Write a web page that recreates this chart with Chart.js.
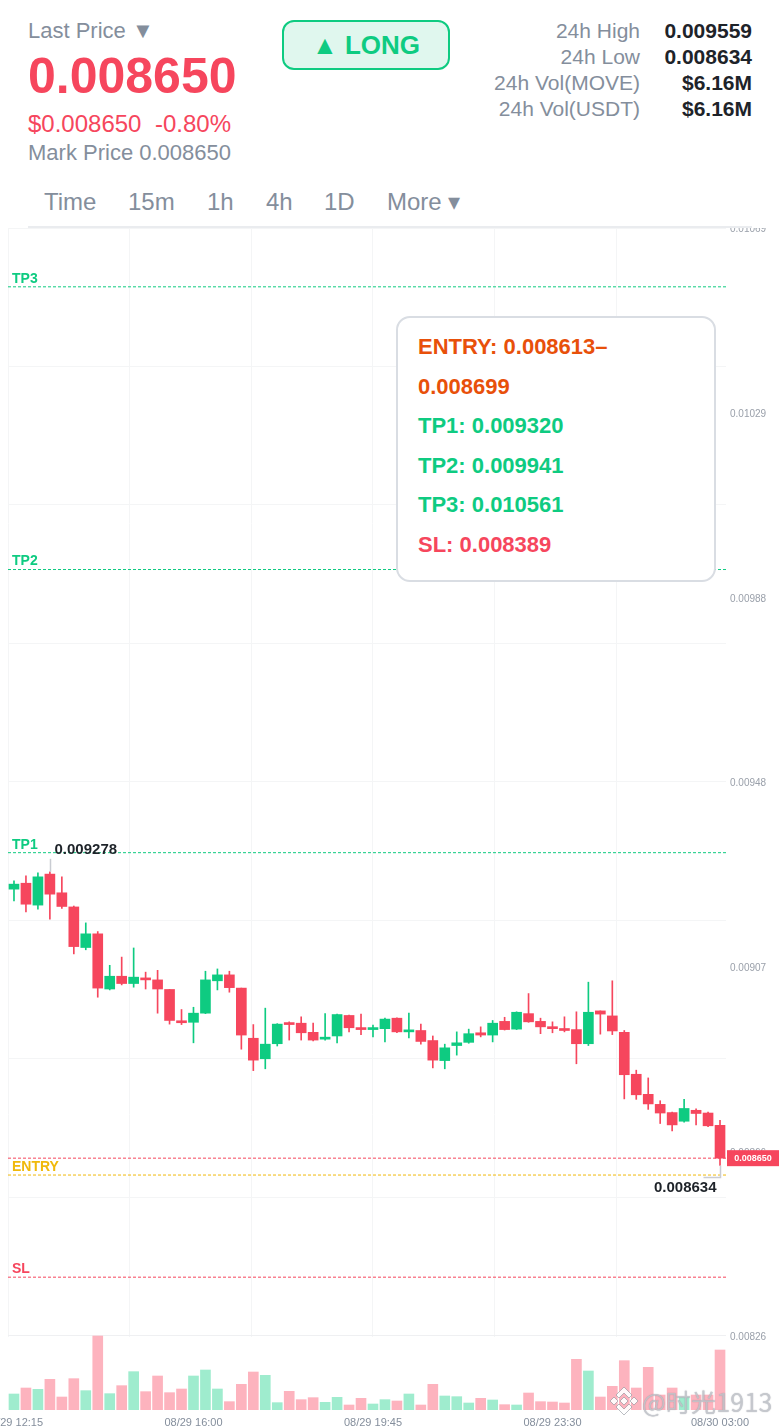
<!DOCTYPE html>
<html>
<head>
<meta charset="utf-8">
<script src="https://cdn.jsdelivr.net/npm/chart.js@4/dist/chart.umd.min.js"></script>
<style>
html,body{margin:0;padding:0;background:#fff;width:780px;height:1428px;overflow:hidden;font-family:"Liberation Sans",Arial,sans-serif;}
.a{position:absolute;white-space:nowrap;line-height:1;}
.gray{color:#848e9c;}
.red{color:#f6465d;}
.dark{color:#1e2329;}
#chartWrap{position:absolute;left:0;top:228px;width:780px;height:1200px;}
.rowL{position:absolute;right:140px;font-size:21px;line-height:26px;color:#848e9c;white-space:nowrap;}
.rowV{position:absolute;right:28px;font-size:21px;line-height:26px;font-weight:700;color:#1e2329;white-space:nowrap;}
.tab{position:absolute;top:190px;font-size:24px;line-height:24px;color:#848e9c;white-space:nowrap;}
#long{position:absolute;left:282px;top:20px;width:164px;height:46px;border:2px solid #0ecb81;border-radius:12px;background:#e0f7ee;color:#0ecb81;font-weight:700;font-size:26px;line-height:47px;text-align:center;}
#card{position:absolute;left:396px;top:316px;width:316px;height:253px;padding-top:9px;border:2px solid #d9dde3;border-radius:14px;background:#fff;font-size:22px;font-weight:700;line-height:39.6px;}
#card div{padding-left:20px;white-space:nowrap;}
#wm{position:absolute;left:642px;top:1386px;font-family:"Noto Sans CJK SC","Liberation Sans",sans-serif;font-size:25px;line-height:30px;color:rgba(205,208,214,.75);text-shadow:0 0 1px rgba(90,95,105,.55);white-space:nowrap;letter-spacing:.2px;}
#logo{position:absolute;left:610px;top:1386px;}
</style>
</head>
<body>
<div class="a gray" style="left:28px;top:20px;font-size:22px;">Last Price ▼</div>
<div class="a red" style="left:28px;top:51px;font-size:50px;font-weight:700;">0.008650</div>
<div class="a red" style="left:28px;top:112px;font-size:24px;">$0.008650</div>
<div class="a red" style="left:155px;top:112px;font-size:24px;">-0.80%</div>
<div class="a gray" style="left:28px;top:142px;font-size:22px;">Mark Price 0.008650</div>
<div id="long">▲ LONG</div>
<div class="rowL" style="top:18px;">24h High</div><div class="rowV" style="top:18px;">0.009559</div>
<div class="rowL" style="top:44px;">24h Low</div><div class="rowV" style="top:44px;">0.008634</div>
<div class="rowL" style="top:70px;">24h Vol(MOVE)</div><div class="rowV" style="top:70px;">$6.16M</div>
<div class="rowL" style="top:96px;">24h Vol(USDT)</div><div class="rowV" style="top:96px;">$6.16M</div>
<div class="tab" style="left:44px;">Time</div>
<div class="tab" style="left:128px;">15m</div>
<div class="tab" style="left:207px;">1h</div>
<div class="tab" style="left:266px;">4h</div>
<div class="tab" style="left:324px;">1D</div>
<div class="tab" style="left:387px;">More ▾</div>
<div style="position:absolute;left:28px;top:226px;width:724px;height:2px;background:#eaecef;"></div>
<div id="chartWrap"><canvas id="c" width="780" height="1200" style="display:block;width:780px;height:1200px;"></canvas></div>
<div id="card">
<div style="color:#e8500a;">ENTRY: 0.008613–</div>
<div style="color:#e8500a;">0.008699</div>
<div style="color:#0ecb81;">TP1: 0.009320</div>
<div style="color:#0ecb81;">TP2: 0.009941</div>
<div style="color:#0ecb81;">TP3: 0.010561</div>
<div style="color:#f6465d;">SL: 0.008389</div>
</div>
<svg id="logo" width="28" height="30" viewBox="0 0 28 30"><g fill="rgba(255,255,255,.9)" stroke="rgba(120,125,135,.5)" stroke-width="1"><path d="M14 1l8 8-3 3-5-5-5 5-3-3z"/><path d="M4 11l4 4-4 4-4-4z"/><path d="M24 11l4 4-4 4-4-4z"/><path d="M14 11l4 4-4 4-4-4z"/><path d="M14 29l-8-8 3-3 5 5 5-5 3 3z"/></g></svg>
<div id="wm">@时光1913</div>
<script>
const categories = ["08/29 12:15","08/29 12:30","08/29 12:45","08/29 13:00","08/29 13:15","08/29 13:30","08/29 13:45","08/29 14:00","08/29 14:15","08/29 14:30","08/29 14:45","08/29 15:00","08/29 15:15","08/29 15:30","08/29 15:45","08/29 16:00","08/29 16:15","08/29 16:30","08/29 16:45","08/29 17:00","08/29 17:15","08/29 17:30","08/29 17:45","08/29 18:00","08/29 18:15","08/29 18:30","08/29 18:45","08/29 19:00","08/29 19:15","08/29 19:30","08/29 19:45","08/29 20:00","08/29 20:15","08/29 20:30","08/29 20:45","08/29 21:00","08/29 21:15","08/29 21:30","08/29 21:45","08/29 22:00","08/29 22:15","08/29 22:30","08/29 22:45","08/29 23:00","08/29 23:15","08/29 23:30","08/29 23:45","08/30 00:00","08/30 00:15","08/30 00:30","08/30 00:45","08/30 01:00","08/30 01:15","08/30 01:30","08/30 01:45","08/30 02:00","08/30 02:15","08/30 02:30","08/30 02:45","08/30 03:00"];
const opens  = [0.009240,0.009253,0.009205,0.009273,0.009232,0.009201,0.009112,0.009142,0.009021,0.009049,0.009033,0.009045,0.009041,0.009020,0.008951,0.008948,0.008968,0.009039,0.009052,0.009023,0.008913,0.008868,0.008901,0.008945,0.008946,0.008926,0.008911,0.008918,0.008963,0.008935,0.008932,0.008934,0.008957,0.008927,0.008930,0.008908,0.008864,0.008897,0.008904,0.008925,0.008920,0.008950,0.008933,0.008967,0.008950,0.008938,0.008932,0.008932,0.008901,0.008973,0.008962,0.008926,0.008834,0.008790,0.008768,0.008750,0.008731,0.008755,0.008749,0.008722];
const highs  = [0.009258,0.009269,0.009276,0.009278,0.009267,0.009203,0.009166,0.009147,0.009073,0.009091,0.009111,0.009058,0.009062,0.009020,0.008976,0.008981,0.009060,0.009065,0.009060,0.009023,0.008943,0.008979,0.008945,0.008949,0.008960,0.008946,0.008967,0.008966,0.008964,0.008966,0.008942,0.008957,0.008958,0.008968,0.008944,0.008918,0.008900,0.008927,0.008933,0.008938,0.008952,0.008959,0.008971,0.009011,0.008957,0.008949,0.008960,0.008971,0.009036,0.008973,0.009039,0.008930,0.008843,0.008826,0.008776,0.008751,0.008779,0.008758,0.008751,0.008733];
const lows   = [0.009214,0.009190,0.009196,0.009174,0.009198,0.009098,0.009107,0.009003,0.009019,0.009030,0.009025,0.009021,0.008968,0.008944,0.008943,0.008903,0.008967,0.009019,0.009014,0.008889,0.008842,0.008846,0.008896,0.008909,0.008909,0.008907,0.008909,0.008903,0.008927,0.008921,0.008916,0.008905,0.008925,0.008914,0.008900,0.008848,0.008846,0.008876,0.008902,0.008916,0.008905,0.008931,0.008932,0.008948,0.008923,0.008925,0.008927,0.008857,0.008897,0.008922,0.008921,0.008780,0.008779,0.008757,0.008726,0.008710,0.008729,0.008723,0.008719,0.008634];
const closes = [0.009251,0.009207,0.009267,0.009229,0.009202,0.009114,0.009142,0.009023,0.009049,0.009033,0.009047,0.009041,0.009021,0.008952,0.008947,0.008968,0.009041,0.009052,0.009024,0.008920,0.008865,0.008900,0.008944,0.008943,0.008925,0.008909,0.008914,0.008965,0.008936,0.008932,0.008935,0.008955,0.008927,0.008929,0.008906,0.008865,0.008892,0.008903,0.008923,0.008920,0.008946,0.008932,0.008970,0.008949,0.008938,0.008934,0.008930,0.008901,0.008970,0.008966,0.008929,0.008833,0.008789,0.008769,0.008749,0.008723,0.008759,0.008748,0.008721,0.008650];
const volumes = [48,66,62,92,39,94,58,222,49,73,115,55,102,52,63,102,120,63,25,77,114,104,22,56,31,37,23,38,15,35,18,31,27,48,15,77,42,40,21,35,30,16,15,51,25,24,21,152,117,39,71,148,66,128,45,66,38,45,45,180];
const xLabelIndexes = [0,15,30,45,59];
const priceTickValues = [0.00826,0.008665,0.00907,0.009475,0.00988,0.010285,0.01069];
const priceTickLabels = ["0.00826","0.00866","0.00907","0.00948","0.00988","0.01029","0.01069"];
const priceGridValues = [0.00826,0.00856375,0.0088675,0.00917125,0.009475,0.00977875,0.0100825,0.01038625,0.01069];
const timeGridValues = [-0.5,9.66,19.83,30,40.17,50.33];
const levelNames  = ["TP3","TP2","TP1","ENTRY","SL"];
const levelValues = [0.010561,0.009941,0.009320,0.008613,0.008389];
const levelColors = ["#0ecb81","#0ecb81","#0ecb81","#f0b90b","#f6465d"];
const lastPrice = 0.008650;
const highMark = {index:3,value:0.009278,text:"0.009278"};
const lowMark  = {index:59,value:0.008634,text:"0.008634"};
const priceMin = 0.0080977, priceMax = 0.01069, volMax = 3546;

const GREEN="#0ecb81", RED="#f6465d";
const up = closes.map((c,i)=>c>=opens[i]);
const candleColors = up.map(u=>u?GREEN:RED);
const volColors = up.map(u=>u?"#9fecce":"#fdb3be");

const xIdx = {min:-0.5,max:59.5};
function hLine(v,color){return {type:'line',xAxisID:'xg',yAxisID:'y',data:[{x:xIdx.min,y:v},{x:xIdx.max,y:v}],borderColor:color,borderWidth:1,borderDash:[3,2],pointRadius:0,fill:false,order:0};}
function noPad(s){s.paddingLeft=s.paddingRight=s.paddingTop=s.paddingBottom=0;}

const overlay = {
  id:'overlay',
  beforeDatasetsDraw(chart){
    const {ctx,chartArea:a,scales:{y}}=chart;
    const p=y.getPixelForValue(0.00826);
    ctx.save();ctx.fillStyle='#fff';ctx.fillRect(a.left-1,p+1,a.right-a.left+1,a.bottom-p-1);ctx.restore();
  },
  afterDatasetsDraw(chart){
    const {ctx,chartArea:a,scales:{x,y}}=chart;
    ctx.save();
    ctx.textBaseline='middle';
    levelNames.forEach((n,i)=>{
      ctx.font='bold 14px "Liberation Sans"';ctx.fillStyle=levelColors[i];ctx.textAlign='left';
      ctx.fillText(n,12,y.getPixelForValue(levelValues[i])-8);
    });
    ctx.strokeStyle='#c9ccd2';ctx.lineWidth=1.5;
    const hx=Math.round(x.getPixelForValue(highMark.index))+.5,hy=y.getPixelForValue(highMark.value);
    ctx.beginPath();ctx.moveTo(hx,hy);ctx.lineTo(hx,hy-13);ctx.stroke();
    const lx=Math.round(x.getPixelForValue(lowMark.index))+.5,ly=y.getPixelForValue(lowMark.value);
    ctx.beginPath();ctx.moveTo(lx,ly);ctx.lineTo(lx,ly+12);ctx.lineTo(lx-17,ly+12);ctx.stroke();
    ctx.font='bold 15px "Liberation Sans"';ctx.fillStyle='#1e2329';
    ctx.textAlign='left';ctx.fillText(highMark.text,hx+4,hy-22);
    ctx.textAlign='right';ctx.fillText(lowMark.text,lx-4,ly+22);
    const ty=y.getPixelForValue(lastPrice);
    ctx.fillStyle=RED;ctx.fillRect(727,ty-8,52,16);
    ctx.fillStyle='#fff';ctx.font='bold 9px "Liberation Sans"';ctx.textAlign='center';
    ctx.fillText(lastPrice.toFixed(6),753,ty+.5);
    ctx.restore();
  }
};

new Chart(document.getElementById('c'),{
  data:{
    labels:categories,
    datasets:[
      hLine(levelValues[0],levelColors[0]),
      hLine(levelValues[1],levelColors[1]),
      hLine(levelValues[2],levelColors[2]),
      hLine(levelValues[3],levelColors[3]),
      hLine(levelValues[4],levelColors[4]),
      hLine(lastPrice,RED),
      {type:'bar',xAxisID:'x',yAxisID:'y',grouped:false,data:opens.map((o,i)=>[Math.min(o,closes[i]),Math.max(o,closes[i])]),backgroundColor:candleColors,barThickness:10,minBarLength:2,order:1},
      {type:'bar',xAxisID:'x',yAxisID:'y',grouped:false,data:lows.map((l,i)=>[l,highs[i]]),backgroundColor:candleColors,barThickness:1,order:2},
      {type:'bar',xAxisID:'x',yAxisID:'v',grouped:false,data:volumes,backgroundColor:volColors,barThickness:10,order:3}
    ]
  },
  options:{
    responsive:false,animation:false,devicePixelRatio:1,
    layout:{autoPadding:false,padding:{left:8,right:0,top:0,bottom:0}},
    plugins:{legend:{display:false},tooltip:{enabled:false}},
    scales:{
      x:{type:'category',position:'bottom',offset:true,grid:{display:false,drawTicks:false},border:{display:false},
        ticks:{autoSkip:false,maxRotation:0,minRotation:0,padding:6,color:'#848e9c',font:{size:11,family:'"Liberation Sans"'},
          callback(v,i){return xLabelIndexes.includes(i)?categories[i]:'';}},
        afterFit(s){s.height=18;noPad(s);}},
      xg:{type:'linear',position:'top',min:xIdx.min,max:xIdx.max,
        grid:{color:'#f4f5f6',lineWidth:1,drawTicks:false},border:{display:false},ticks:{display:false},
        afterBuildTicks(s){s.ticks=timeGridValues.map(v=>({value:v}));},afterFit(s){s.height=0;noPad(s);}},
      y:{type:'linear',position:'right',min:priceMin,max:priceMax,grid:{display:false,drawTicks:false},border:{display:false},
        ticks:{autoSkip:false,padding:4,labelOffset:1.5,color:'#9aa0aa',font:{size:10,family:'"Liberation Sans"'},
          callback(v,i){return priceTickLabels[i];}},
        afterBuildTicks(s){s.ticks=priceTickValues.map(v=>({value:v}));},afterFit(s){s.width=54;noPad(s);}},
      yg:{type:'linear',position:'left',min:priceMin,max:priceMax,
        grid:{color(c){return c.index===0?'#eff0f2':'#f4f5f6';},lineWidth:1,drawTicks:false},border:{display:false},ticks:{display:false},
        afterBuildTicks(s){s.ticks=priceGridValues.map(v=>({value:v}));},afterFit(s){s.width=0;noPad(s);}},
      v:{type:'linear',display:false,min:0,max:volMax,position:'left'}
    }
  },
  plugins:[overlay]
});
</script>
</body>
</html>
